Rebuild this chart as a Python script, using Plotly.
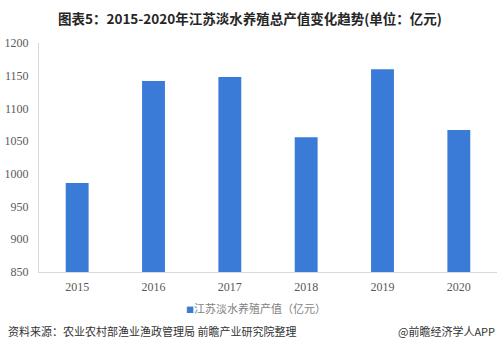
import plotly.graph_objects as go

years = ["2015", "2016", "2017", "2018", "2019", "2020"]
values = [986, 1142, 1148, 1056, 1160, 1067]
series_name = "江苏淡水养殖产值（亿元）"
title_text = "图表5：2015-2020年江苏淡水养殖总产值变化趋势(单位：亿元)"
source_text = "资料来源：农业农村部渔业渔政管理局 前瞻产业研究院整理"
credit_text = "@前瞻经济学人APP"
y_ticks = [850, 900, 950, 1000, 1050, 1100, 1150, 1200]

bar_color = "#3a7bd8"
cjk = "Noto Sans CJK SC"

fig = go.Figure()
fig.add_trace(go.Bar(x=years, y=values, name=series_name,
                     marker=dict(color=bar_color, line=dict(width=0)),
                     showlegend=False))

fig.update_layout(
    width=499, height=350,
    margin=dict(l=39, r=2, t=43, b=78),
    paper_bgcolor="white", plot_bgcolor="white",
    bargap=0.7,
    xaxis=dict(type="category", showline=True, linecolor="#d9d9d9", linewidth=1,
               showgrid=False, ticks="", zeroline=False,
               tickfont=dict(family="Liberation Serif", size=12, color="#595959"),
               ticklabelstandoff=4),
    yaxis=dict(range=[850, 1200], tickvals=y_ticks, showline=True, linecolor="#d9d9d9",
               linewidth=1, showgrid=False, ticks="", zeroline=False,
               tickfont=dict(family="Liberation Serif", size=12, color="#595959"),
               ticklabelstandoff=7),
    annotations=[
        dict(text="<b>" + title_text + "</b>", xref="paper", yref="paper",
             x=0.5, y=0, xanchor="center", yanchor="middle",
             showarrow=False, font=dict(family=cjk, size=13.5, color="#262626")),
        dict(text="<span style='font-size:8px;color:%s'>■</span>%s" % (bar_color, series_name),
             xref="paper", yref="paper", x=0.5, y=0, xanchor="center", yanchor="middle",
             showarrow=False, font=dict(family=cjk, size=11, color="#7f7f7f")),
        dict(text=source_text, xref="paper", yref="paper", x=0, y=0,
             xanchor="left", yanchor="middle", showarrow=False,
             font=dict(family=cjk, size=11, color="#333333")),
        dict(text=credit_text, xref="paper", yref="paper", x=1, y=0,
             xanchor="right", yanchor="middle", showarrow=False,
             font=dict(family=cjk, size=11, color="#333333")),
    ],
)

# position annotations in pixel terms relative to plot area
plot_h = 350 - 43 - 78
plot_w = 499 - 39 - 2
def py(ypix):
    return (350 - 78 - ypix) / plot_h
def px(xpix):
    return (xpix - 39) / plot_w

anns = fig.layout.annotations
anns[0].update(x=px(250), y=py(18))
anns[1].update(x=px(256), y=py(308))
anns[2].update(x=px(6), y=py(331))
anns[3].update(x=px(497), y=py(331))

fig.write_html("out.html")
